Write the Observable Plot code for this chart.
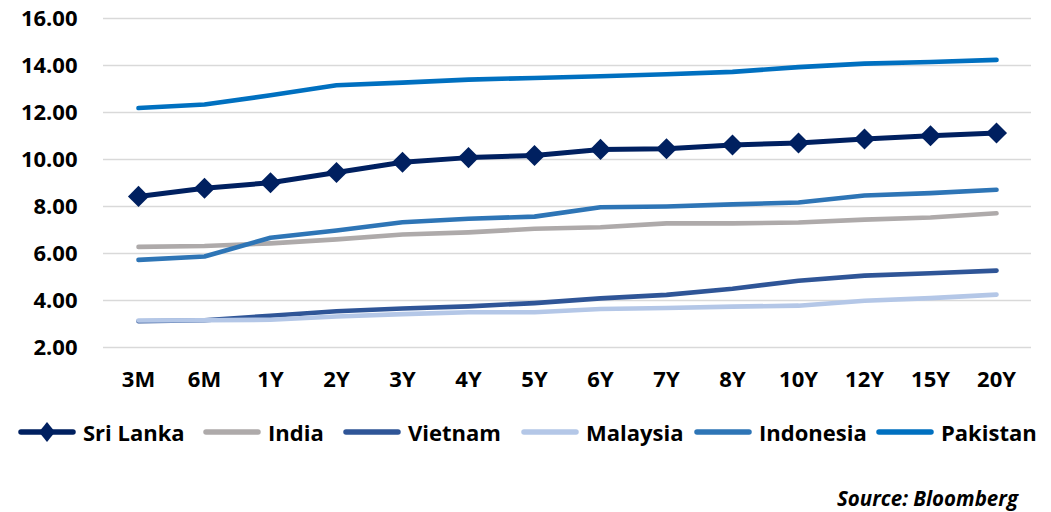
<!DOCTYPE html>
<html>
<head>
<meta charset="utf-8">
<script src="https://cdn.jsdelivr.net/npm/d3@7"></script>
<script src="https://cdn.jsdelivr.net/npm/@observablehq/plot@0.6"></script>
<style>
  html, body { margin: 0; padding: 0; background: #fff; }
  #wrap { position: relative; width: 1051px; height: 512px; font-family: "Open Sans", Lato, sans-serif; font-weight: 700; color: #000; }
  #legend { position: absolute; left: 0; top: 420px; width: 1051px; height: 24px; font-size: 22px; line-height: 24px; }
  .item { position: absolute; top: 0; display: flex; align-items: center; white-space: nowrap; }
  .item svg { margin-right: 7px; flex: none; }
  #source { position: absolute; right: 33px; top: 487px; font-size: 20.5px; font-style: italic; line-height: 22px; white-space: nowrap; }
</style>
</head>
<body>
<div id="wrap">
  <div id="chart"></div>
  <div id="legend"></div>
  <div id="source">Source: Bloomberg</div>
</div>
<script>
// Government yield curves by tenor (%)
const tenors = ["3M", "6M", "1Y", "2Y", "3Y", "4Y", "5Y", "6Y", "7Y", "8Y", "10Y", "12Y", "15Y", "20Y"];
const countries = ["Sri Lanka", "India", "Vietnam", "Malaysia", "Indonesia", "Pakistan"];
const colors = ["#002060", "#AEAAAA", "#2F5597", "#B4C7E7", "#2E75B6", "#0070C0"];

const sriLanka  = [8.43, 8.78, 9.01, 9.45, 9.88, 10.08, 10.17, 10.43, 10.46, 10.62, 10.70, 10.87, 11.01, 11.13];
const india     = [6.28, 6.32, 6.43, 6.60, 6.81, 6.90, 7.05, 7.12, 7.28, 7.28, 7.32, 7.44, 7.53, 7.71];
const vietnam   = [3.12, 3.16, 3.35, 3.54, 3.66, 3.75, 3.89, 4.09, 4.24, 4.50, 4.84, 5.06, 5.16, 5.27];
const malaysia  = [3.15, 3.16, 3.18, 3.32, 3.42, 3.50, 3.50, 3.64, 3.68, 3.74, 3.78, 3.99, 4.10, 4.25];
const indonesia = [5.73, 5.87, 6.67, 6.98, 7.33, 7.48, 7.57, 7.97, 8.00, 8.09, 8.17, 8.47, 8.57, 8.71];
const pakistan  = [12.19, 12.34, 12.73, 13.16, 13.27, 13.40, 13.47, 13.54, 13.63, 13.73, 13.93, 14.08, 14.15, 14.24];

const yTicks = [2, 4, 6, 8, 10, 12, 14, 16];

// Left edge of each legend entry (px)
const legendLeft = [18, 203, 343, 521, 694, 876];

const seriesValues = [sriLanka, india, vietnam, malaysia, indonesia, pakistan];
const rows = countries.flatMap((c, i) =>
  tenors.map((t, j) => ({country: c, tenor: t, value: seriesValues[i][j]}))
);
const sl = rows.filter(d => d.country === "Sri Lanka");

const chart = Plot.plot({
  width: 1051,
  height: 400,
  marginTop: 18,
  marginBottom: 53,
  marginLeft: 103,
  marginRight: 20,
  style: {fontFamily: "'Open Sans', Lato, sans-serif", fontWeight: 700, fontSize: "22px", color: "#000", background: "#fff"},
  x: {type: "point", domain: tenors, padding: 0.5, label: null, tickSize: 0, tickPadding: 24},
  y: {domain: [2, 16], ticks: yTicks, tickFormat: d3.format(".2f"), label: null, tickSize: 0, tickPadding: 26},
  color: {domain: countries, range: colors},
  marks: [
    Plot.ruleY(yTicks, {stroke: "#D9D9D9", strokeWidth: 1.6}),
    ...countries.map((c, i) => Plot.line(rows.filter(d => d.country === c), {
      x: "tenor", y: "value", stroke: colors[i],
      strokeWidth: i === 0 ? 5 : 4.6, strokeLinecap: "round", strokeLinejoin: "round"
    })),
    Plot.dot(sl, {x: "tenor", y: "value", symbol: "diamond2", r: 9.5, fill: colors[0], stroke: "none"})
  ]
});
document.getElementById("chart").appendChild(chart);

// Legend row
const legend = d3.select("#legend");
countries.forEach((c, i) => {
  const item = legend.append("div").attr("class", "item").style("left", legendLeft[i] + "px");
  const sw = item.append("svg").attr("width", 58).attr("height", 24);
  sw.append("line").attr("x1", 3).attr("x2", 55).attr("y1", 12).attr("y2", 12)
    .attr("stroke", colors[i]).attr("stroke-width", 5.5).attr("stroke-linecap", "round");
  if (i === 0) {
    sw.append("path").attr("d", "M29,2 L37,12 L29,22 L21,12 Z").attr("fill", colors[0]);
  }
  item.append("span").text(c);
});
</script>
</body>
</html>
